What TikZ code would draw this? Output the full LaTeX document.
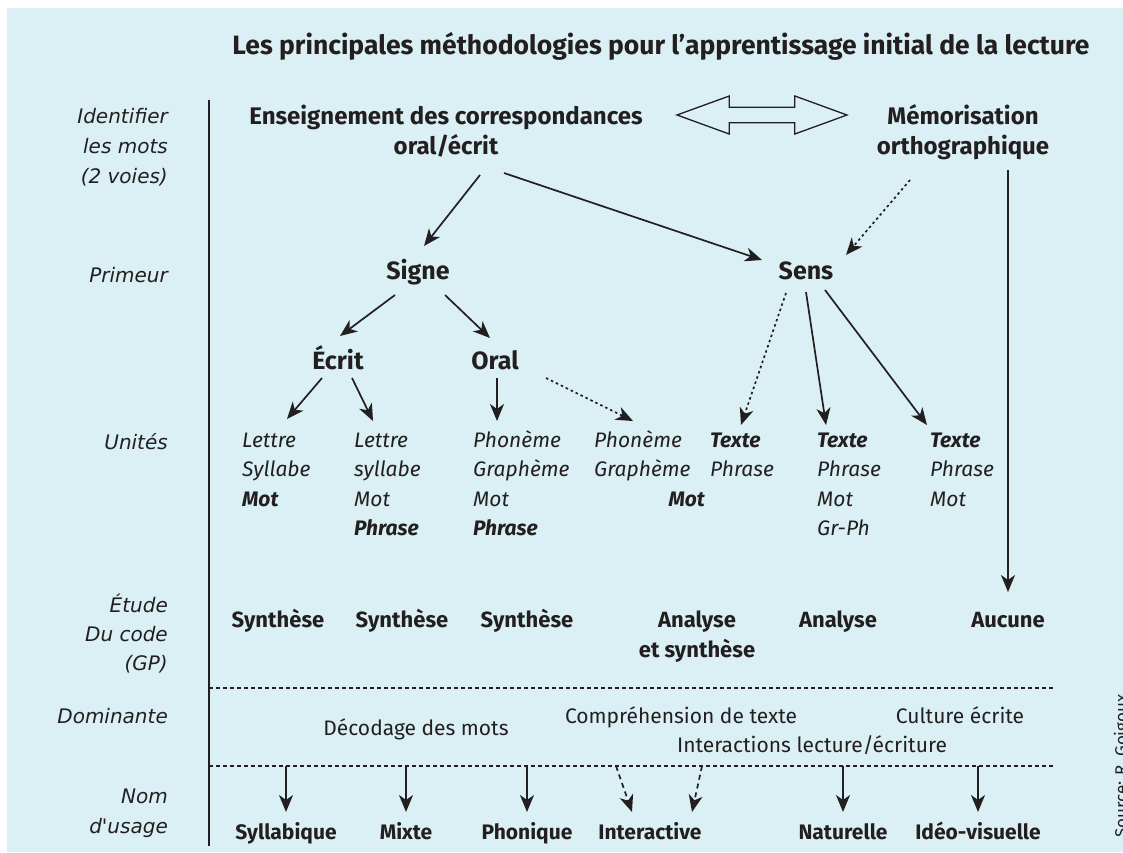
\documentclass[tikz,border=0pt]{standalone}
\usepackage{fontspec}
\setmainfont{Fira Sans}
\newfontfamily\labfont{DejaVu Sans}
\usetikzlibrary{arrows.meta,shapes.arrows,calc}
\definecolor{bg}{HTML}{DBF0F4}
\definecolor{ink}{HTML}{231F20}
\tikzset{
  every node/.style={inner sep=0pt, text=ink},
  lab/.style={font=\labfont\itshape\fontsize{20}{30}\selectfont, align=right, anchor=base east},
  head/.style={font=\bfseries\fontsize{24}{30}\selectfont, align=center, anchor=base},
  big/.style={font=\bfseries\fontsize{25}{30}\selectfont, anchor=base},
  unit/.style={font=\itshape\fontsize{21}{29.5}\selectfont, align=left, anchor=base west},
  etude/.style={font=\bfseries\fontsize{22}{30}\selectfont, align=center, anchor=base},
  dom/.style={font=\fontsize{21}{29}\selectfont, align=center, anchor=base},
  nom/.style={font=\bfseries\fontsize{21}{30}\selectfont, anchor=base},
  arr/.style={draw=ink, line width=1.7pt, -{Stealth[length=17pt,width=14pt,inset=5pt]}},
  dotarr/.style={arr, dash pattern=on 2.5pt off 3pt},
  dasharr/.style={arr, dash pattern=on 5pt off 4pt},
  sep/.style={draw=ink, line width=1.3pt, dash pattern=on 4pt off 3pt},
}
\begin{document}
\begin{tikzpicture}[x=1pt,y=-1pt]
\useasboundingbox (0,0) rectangle (1123,852);
\fill[white] (0,0) rectangle (1123,852);
\fill[bg] (7,8) rectangle (1123,852);

% title
\node[font=\bfseries\fontsize{26.5}{30}\selectfont, anchor=base] (title) at (661,54)
  {Les principales méthodologies pour l'apprentissage initial de la lecture};

% left axis
\coordinate (axtop) at (209,100);
\coordinate (axbot) at (209,846);
\draw[ink, line width=1.8pt] (axtop) -- (axbot);
\coordinate (d1a) at (209,688); \coordinate (d1b) at (1055,688);
\coordinate (d2a) at (209,766); \coordinate (d2b) at (1055,766);
\draw[sep] (d1a) -- (d1b);
\draw[sep] (d2a) -- (d2b);

% left labels (base = last line)
\node[lab] (l1) at (168,183) {Identifier\\les mots\\(2 voies)};
\node[lab] (l2) at (168,282) {Primeur};
\node[lab] (l3) at (168,449) {Unités};
\node[lab, font=\labfont\itshape\fontsize{20}{29}\selectfont] (l4) at (168,670) {Étude\\Du code\\(GP)};
\node[lab] (l5) at (168,723) {Dominante};
\node[lab] (l6) at (168,833) {Nom\\d'usage};

% top level
\node[head] (ens) at (446,154) {Enseignement des correspondances\\oral/écrit};
\node[head] (mem) at (963,154) {Mémorisation\\orthographique};
\node[double arrow, draw=ink, line width=1.3pt, fill=none, minimum height=170pt,
      minimum width=38pt, double arrow head extend=11pt, double arrow tip angle=40,
      inner sep=7pt] (dbl) at (762,115) {};

\node[big] (signe) at (418,279) {Signe};
\node[big] (sens) at (806,279) {Sens};
\node[big] (ecrit) at (338,369) {Écrit};
\node[big] (oral) at (495,369) {Oral};

% units (base = last line)
\node[unit] (c1) at (242,506) {Lettre\\Syllabe\\\textbf{Mot}};
\node[unit] (c2) at (354,535.5) {Lettre\\syllabe\\Mot\\\textbf{Phrase}};
\node[unit] (c3) at (473,535.5) {Phonème\\Graphème\\Mot\\\textbf{Phrase}};
\node[unit] (c4) at (594,476.5) {Phonème\\Graphème};
\node[unit, anchor=base east] (c4m) at (705,506) {\textbf{Mot}};
\node[unit] (c5) at (710,476.5) {\textbf{Texte}\\Phrase};
\node[unit] (c6) at (817,535.5) {\textbf{Texte}\\Phrase\\Mot\\Gr-Ph};
\node[unit] (c7) at (930,506) {\textbf{Texte}\\Phrase\\Mot};

% etude du code
\node[etude] (s1) at (278,627) {Synthèse};
\node[etude] (s2) at (402,627) {Synthèse};
\node[etude] (s3) at (527,627) {Synthèse};
\node[etude] (ana) at (697,657) {Analyse\\et synthèse};
\node[etude] (an2) at (838,627) {Analyse};
\node[etude] (auc) at (1008,627) {Aucune};

% dominante
\node[dom] (dec) at (416,735) {Décodage des mots};
\node[dom] (comp) at (681,723) {Compréhension de texte};
\node[dom] (cult) at (960,723) {Culture écrite};
\node[dom] (inter) at (812,752) {Interactions lecture/écriture};

% noms
\node[nom] (n1) at (286,839) {Syllabique};
\node[nom] (n2) at (406,839) {Mixte};
\node[nom] (n3) at (527,839) {Phonique};
\node[nom] (n4) at (650,839) {Interactive};
\node[nom] (n5) at (843,839) {Naturelle};
\node[nom] (n6) at (978,839) {Idéo-visuelle};

% source
\node[font=\fontsize{17}{20}\selectfont, rotate=90, anchor=base west] (src) at (1127,838) {Source: R. Goigoux};

% arrows
\draw[arr] ([shift={(34,21)}]ens.base) -- ([shift={(6,-33)}]signe.base);
\draw[arr] ([shift={(58,19)}]ens.base) -- ([shift={(-44,-19)}]sens.base);
\draw[dotarr] ([shift={(-53,26)}]mem.base) -- ([shift={(40,-24)}]sens.base);
\draw[arr] ([shift={(45,16)}]mem.base) -- ([shift={(0,-35)}]auc.base);

\draw[arr] ([shift={(-23,16)}]signe.base) -- ([shift={(2,-33)}]ecrit.base);
\draw[arr] ([shift={(27,16)}]signe.base) -- ([shift={(-5,-31)}]oral.base);

\draw[arr] ([shift={(-16,9)}]ecrit.base) -- ([shift={(45,-87)}]c1.base west);
\draw[arr] ([shift={(14,9)}]ecrit.base) -- ([shift={(19,-114.5)}]c2.base west);
\draw[arr] ([shift={(2,9)}]oral.base) -- ([shift={(24,-114.5)}]c3.base west);
\draw[dotarr] ([shift={(51,9)}]oral.base) -- ([shift={(39,-55.5)}]c4.base west);

\draw[dotarr] ([shift={(-20,14)}]sens.base) -- ([shift={(31,-51.5)}]c5.base west);
\draw[arr] ([shift={(0,13)}]sens.base) -- ([shift={(9,-110.5)}]c6.base west);
\draw[arr] ([shift={(19,11)}]sens.base) -- ([shift={(-3,-81)}]c7.base west);

% bottom arrows
\draw[arr] (n1 |- d2a) -- ([shift={(0,-27)}]n1.base);
\draw[arr] (n2 |- d2a) -- ([shift={(0,-27)}]n2.base);
\draw[arr] (n3 |- d2a) -- ([shift={(0,-27)}]n3.base);
\draw[dasharr] ($(n4 |- d2a)+(-34,0)$) -- ([shift={(-18,-27)}]n4.base);
\draw[dasharr] ($(n4 |- d2a)+(52,0)$) -- ([shift={(42,-27)}]n4.base);
\draw[arr] (n5 |- d2a) -- ([shift={(0,-27)}]n5.base);
\draw[arr] (n6 |- d2a) -- ([shift={(0,-27)}]n6.base);
\end{tikzpicture}
\end{document}
